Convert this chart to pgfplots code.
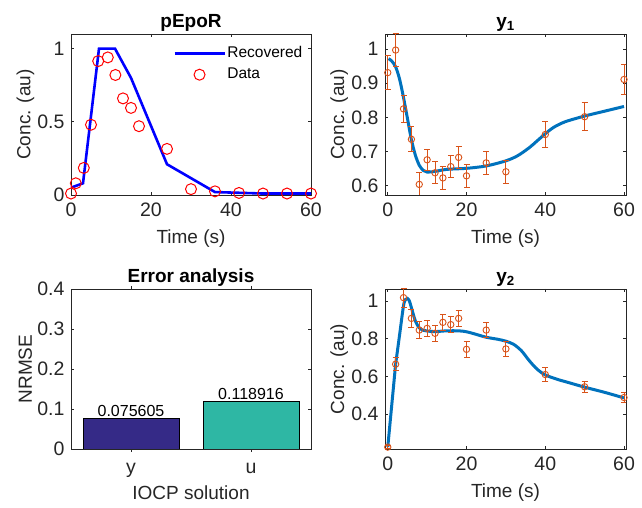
\documentclass[border=0pt]{standalone}
\usepackage{pgfplots}
\pgfplotsset{compat=1.18}
\usepackage{fontspec}
\setmainfont{Liberation Sans}
\definecolor{mblue}{RGB}{0,114,189}
\definecolor{morange}{RGB}{217,83,25}
\definecolor{barA}{RGB}{53,42,135}
\definecolor{barB}{RGB}{46,183,164}
\definecolor{axc}{RGB}{38,38,38}
\newcommand{\tickfont}{\fontsize{19.5}{22}\selectfont}
\newcommand{\labfont}{\fontsize{19}{22}\selectfont}
\pgfplotsset{
  mystyle/.style={
    scale only axis,
    axis line style={draw=axc, line width=0.8pt},
    every tick/.style={draw=axc, line width=0.8pt},
    major tick length=3pt,
    tick align=inside,
    xtick pos=both, ytick pos=both,
    ticklabel style={font=\tickfont, text=axc},
    /pgf/number format/assume math mode=true,
    xticklabel style={text height=14pt, yshift=-3.5pt},
    yticklabel style={xshift=-3pt},
    label style={font=\labfont, text=axc},
    xlabel style={at={(axis description cs:0.5,0)}, anchor=center, yshift=-44pt},
    ylabel style={at={(axis description cs:-0.19,0.5)}, anchor=center},
    title style={font=\bfseries\labfont, at={(axis description cs:0.5,1)}, anchor=south, inner sep=0pt, yshift=-3.5pt},
  },
  ebplot/.style={
    color=morange, mark=o, mark size=3.2pt, only marks,
    mark options={line width=0.9pt, draw=morange},
    error bars/.cd, y dir=both, y explicit,
    error bar style={line width=1pt, draw=morange, color=morange},
    error mark options={rotate=90, mark size=3pt, line width=1pt, draw=morange, color=morange},
  },
}
\begin{document}
\begin{tikzpicture}
\path[use as bounding box] (0pt,0pt) rectangle (642pt,508pt);

% ---------- Panel 1: pEpoR ----------
\begin{axis}[mystyle, at={(71pt,313pt)}, anchor=south west,
  width=240pt, height=161pt,
  xmin=0, xmax=60, ymin=0, ymax=1.1,
  xtick={0,20,40,60}, xticklabels={0,20,40,60},
  ytick={0,0.5,1}, yticklabels={0,0.5,1},
  xlabel={Time (s)}, ylabel={Conc. (au)}, title={pEpoR},
  clip=false,
  legend cell align=left,
  legend image code/.code={\draw[mark repeat=2,mark phase=2,#1] plot coordinates {(0pt,0pt) (25pt,0pt) (50pt,0pt)};},
  legend style={at={(axis description cs:1,1)}, anchor=north east, xshift=-4pt, yshift=-9pt,
    draw=none, fill=none, font=\fontsize{15.5}{18}\selectfont, row sep=4pt,
    nodes={inner sep=1.5pt, text height=11pt, text depth=3pt}},
]
\addplot[blue, line width=2.6pt] coordinates {
(0,0.05) (3,0.08) (7,1) (11,1) (15,0.8) (24,0.21) (36,0.02) (42,0.015) (48,0.01) (54,0.01) (60,0.01)};
\addlegendentry{Recovered}
\addplot[red, only marks, mark=o, mark size=5.5pt, mark options={line width=1pt}] coordinates {
(0,0.01) (1.2,0.08) (3.2,0.185) (5,0.48) (6.8,0.915) (9.2,0.94) (11.1,0.82) (13,0.66) (15,0.595) (17,0.47) (24,0.315) (30,0.04) (36,0.025) (42,0.014) (48,0.01) (54,0.01) (60,0.01)};
\addlegendentry{Data}
\end{axis}

% ---------- Panel 2: y1 ----------
\begin{axis}[mystyle, at={(385pt,313pt)}, anchor=south west,
  width=241pt, height=161pt,
  xmin=-0.7, xmax=60.5, ymin=0.573, ymax=1.044,
  xtick={0,20,40,60}, xticklabels={0,20,40,60},
  ytick={0.6,0.7,0.8,0.9,1}, yticklabels={0.6,0.7,0.8,0.9,1},
  xlabel={Time (s)}, ylabel={Conc. (au)}, title={y\textsubscript{1}},
]
\addplot[mblue, line width=3pt, smooth] coordinates {
(0.2,0.972) (1,0.965) (2,0.948) (3,0.912) (4,0.858) (5,0.797) (6,0.735) (7,0.69) (8,0.66) (9,0.645) (10,0.64) (12,0.642) (15,0.648) (20,0.651) (25,0.658) (30,0.673) (33,0.688) (36,0.712) (38,0.732) (40,0.752) (42,0.77) (45,0.787) (50,0.804) (55,0.818) (60,0.832)};
\addplot[ebplot] table[x=t, y=y, y error=e] {
t y e
0 0.931 0.049
2 0.997 0.047
4 0.825 0.040
6 0.736 0.036
8 0.604 0.035
10 0.676 0.030
12 0.638 0.032
14 0.623 0.033
16 0.656 0.033
18 0.683 0.033
20 0.629 0.033
25 0.667 0.033
30 0.641 0.034
40 0.750 0.038
50 0.802 0.041
60 0.911 0.043
};
\end{axis}

% ---------- Panel 3: Error analysis ----------
\begin{axis}[mystyle, at={(71pt,59pt)}, anchor=south west,
  width=240pt, height=160pt,
  xmin=0.5, xmax=2.5, ymin=0, ymax=0.4,
  xtick={1,2}, xticklabels={y,u},
  ytick={0,0.1,0.2,0.3,0.4}, yticklabels={0,0.1,0.2,0.3,0.4},
  xlabel={IOCP solution}, ylabel={NRMSE}, title={Error analysis},
  ybar, bar width=96pt,
  nodes near coords, point meta=explicit symbolic,
  every node near coord/.append style={font=\fontsize{16}{19}\selectfont, text=black, inner sep=1.5pt, anchor=south},
]
\addplot[fill=barA, draw=black, line width=0.8pt, bar shift=0pt] coordinates {(1,0.075605) [0.075605]};
\addplot[fill=barB, draw=black, line width=0.8pt, bar shift=0pt] coordinates {(2,0.118916) [0.118916]};
\end{axis}

% ---------- Panel 4: y2 ----------
\begin{axis}[mystyle, at={(385pt,59pt)}, anchor=south west,
  width=241pt, height=160pt,
  xmin=-0.7, xmax=60.5, ymin=0.215, ymax=1.064,
  xtick={0,20,40,60}, xticklabels={0,20,40,60},
  ytick={0.4,0.6,0.8,1}, yticklabels={0.4,0.6,0.8,1},
  xlabel={Time (s)}, ylabel={Conc. (au)}, title={y\textsubscript{2}},
]
\addplot[mblue, line width=3pt] coordinates {(0,0.225) (2,0.665)};
\addplot[mblue, line width=3pt, smooth] coordinates {
(2,0.665) (3,0.82) (4,0.975) (4.5,1.008) (5,1.014) (5.5,1.0) (6,0.965) (7,0.895) (8,0.858) (9,0.845) (10,0.841) (12,0.838) (15,0.842) (18,0.842) (20,0.837) (22,0.826) (25,0.808) (28,0.797) (30,0.787) (32,0.77) (34,0.735) (36,0.682) (38,0.637) (40,0.608) (43,0.585) (46,0.567) (50,0.543) (55,0.516) (60,0.486)};
\addplot[ebplot] table[x=t, y=y, y error=e] {
t y e
0 0.225 0.008
2 0.665 0.033
4 1.018 0.050
6 0.908 0.048
8 0.846 0.045
10 0.855 0.044
12 0.829 0.042
14 0.887 0.043
16 0.875 0.042
18 0.908 0.044
20 0.744 0.041
25 0.846 0.041
30 0.746 0.040
40 0.610 0.036
50 0.545 0.030
60 0.488 0.026
};
\end{axis}
\end{tikzpicture}
\end{document}
